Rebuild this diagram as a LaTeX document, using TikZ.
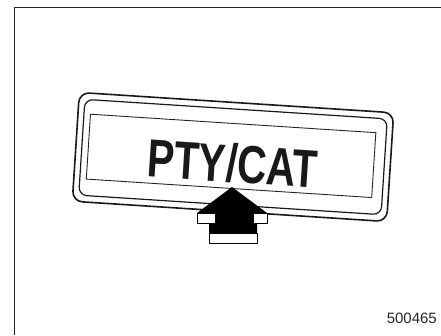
\documentclass[tikz,border=0pt]{standalone}
\usepackage{fontspec}
\setmainfont{Liberation Sans}
\usepackage{tikz}
\usetikzlibrary{positioning}

\begin{document}
\begin{tikzpicture}[x=1pt, y=-1pt, every node/.style={inner sep=0pt},
  rimout/.style={draw=black!90, line width=1.6pt, rounded corners=10pt,
    minimum width=315pt, minimum height=109pt},
  rimin/.style={draw=black!90, line width=1.2pt, rounded corners=8pt,
    minimum width=303pt, minimum height=96pt},
  panel/.style={draw=black!85, line width=0.9pt,
    minimum width=286pt, minimum height=65pt},
  legend/.style={font=\bfseries\fontsize{53.5}{54}\selectfont, text=black!90, xscale=0.76},
  face/.style={fill=white, draw=black, line width=0.9pt}]
\useasboundingbox (0,0) rectangle (441,335);
% frame
\draw[black!85, line width=1.6pt] (14.5,335) -- (14.5,7.3) -- (441,7.3);
% display
\begin{scope}[shift={(233,157)}, rotate=-3.7, transform shape]
  \node[rimout] (Outer) at (0,0) {};
  \node[rimin]  (Inner) at (0,0) {};
  \node[panel]  (Panel) at (-2,-1) {};
  \node[legend] (Label) at (0,6.5) {PTY/CAT};
\end{scope}
% arrow
\fill[black] (232,187) -- (267,213) -- (267,223) -- (257,223) -- (257,243)
  -- (209,243) -- (209,223) -- (197,223) -- (197,213) -- cycle;
\draw[face] (197,213) rectangle (215,223);
\draw[face] (253,213) rectangle (267,223);
\draw[face] (209,233) rectangle (257,243);
\node[anchor=base east, font=\fontsize{15}{16}\selectfont, text=black!85] (Code) at (437,323) {500465};
\end{tikzpicture}
\end{document}
